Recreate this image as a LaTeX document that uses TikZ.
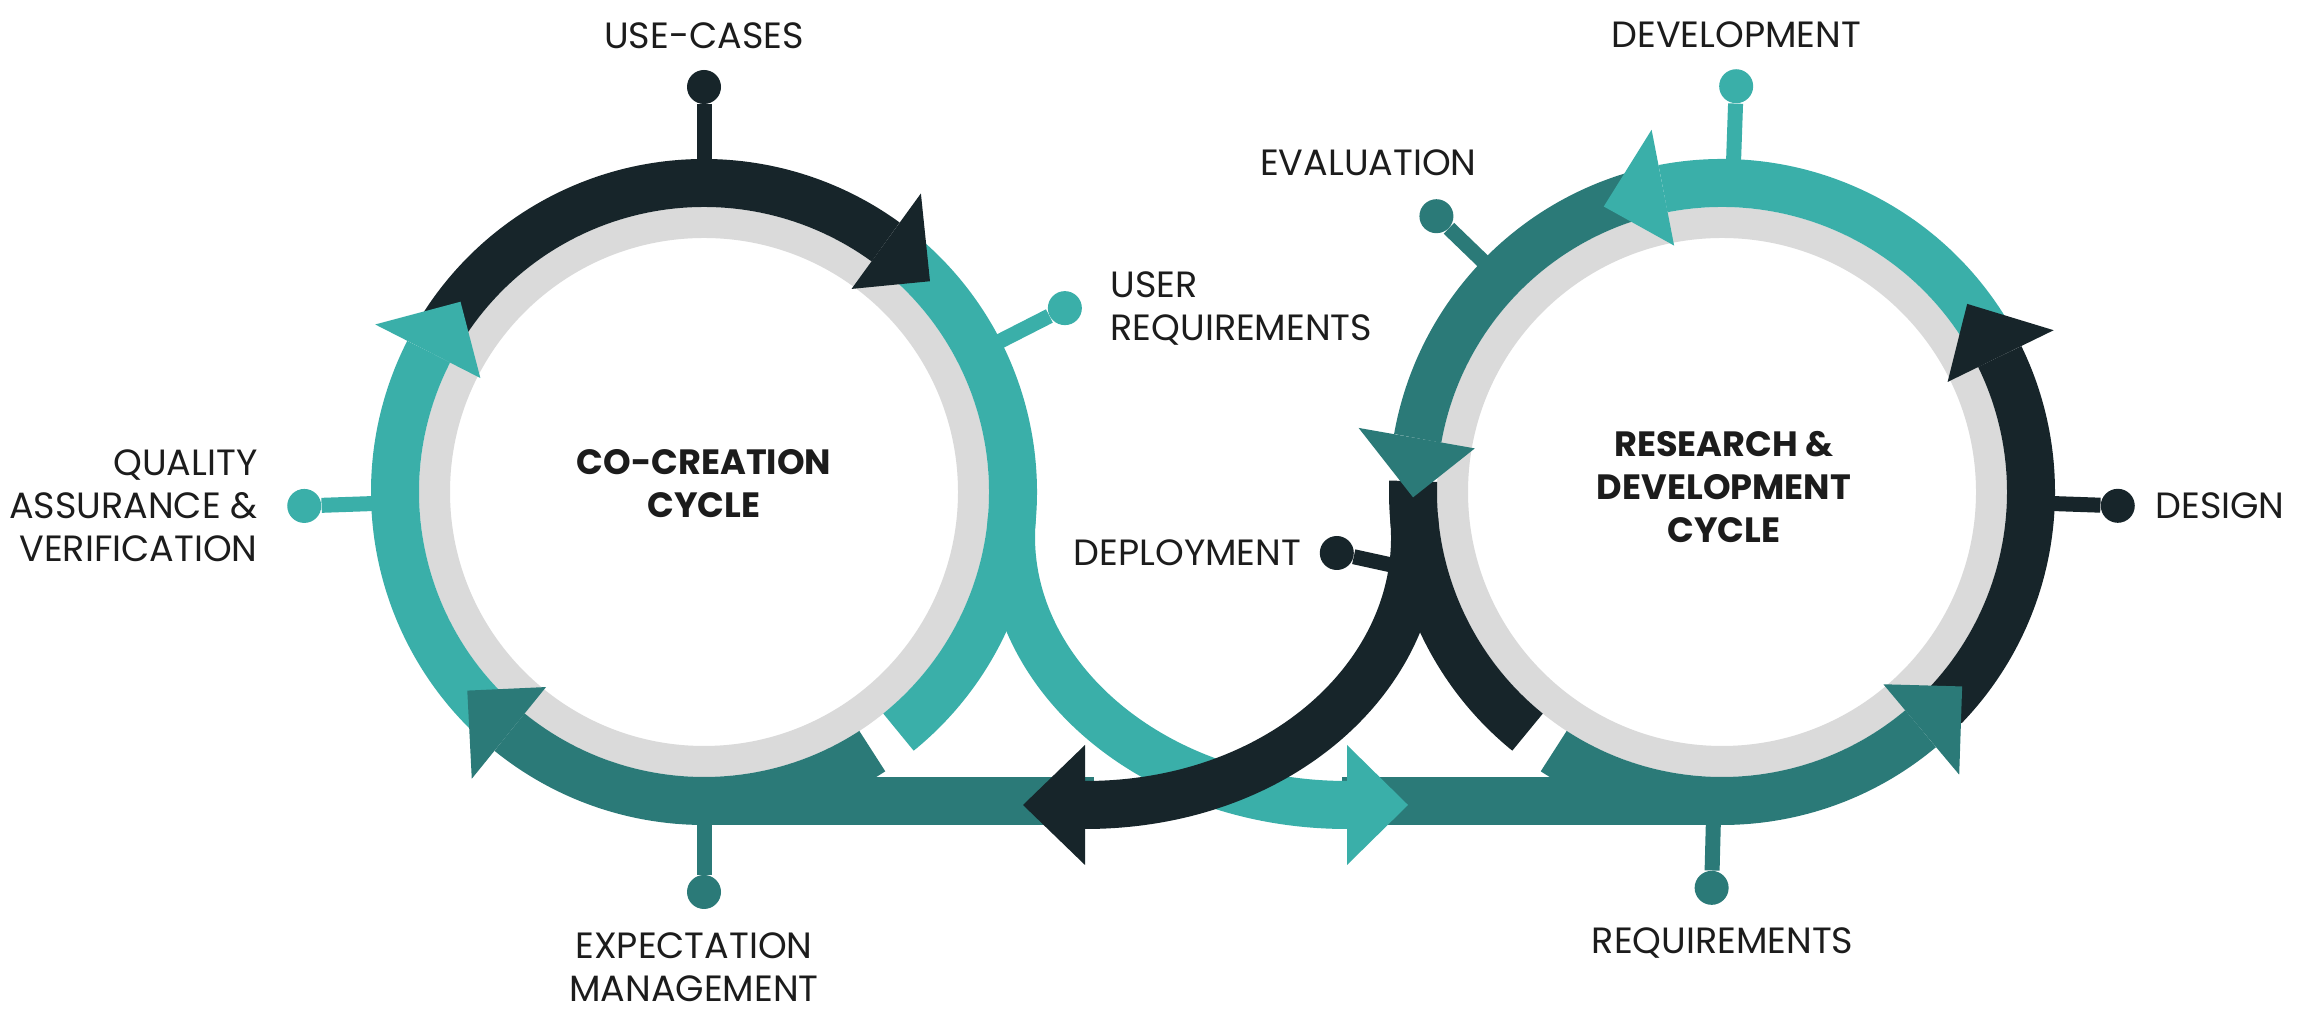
\documentclass[tikz,border=0pt]{standalone}
\usepackage{fontspec}
\setmainfont{Poppins}
\usetikzlibrary{positioning, calc}
\definecolor{ink}{HTML}{17252A}
\definecolor{deepteal}{HTML}{2B7A78}
\definecolor{lightteal}{HTML}{3AAFA9}
\definecolor{ringgray}{HTML}{DADADA}
\definecolor{txt}{HTML}{1C1C1C}
\tikzset{
  band/.style={line width=9.6mm},
  ring/.style={draw=ringgray, line width=6.2mm},
  stem/.style={line width=3mm},
  ball/.style={circle, inner sep=0pt, minimum size=6.8mm},
  lbl/.style={font=\fontsize{20.8}{24.5}\selectfont, text=txt, inner sep=0pt},
  ttl/.style={lbl, font=\fontsize{20}{24.5}\selectfont\bfseries, align=center},
}

\begin{document}
\begin{tikzpicture}[x=0.2mm, y=0.2mm]
  \fill[white] (0,0) rectangle (2306,1028);
  \useasboundingbox (0,0) rectangle (2306,1028);
  \coordinate (lc) at (704,536);
  \coordinate (rc) at (1722,536);
  % grey inner rings
  \draw[ring] (lc) circle (269.5);
  \draw[ring] (rc) circle (269.5);

  % pins
  \foreach \n/\c/\a/\b/\r/\col in {b1/lc/90/90/405/ink, b2/lc/27/27/405/lightteal,
      b3/lc/182/182/400/lightteal, b4/lc/270/270/400/deepteal, b5/rc/88/88/406/lightteal,
      b6/rc/136/136/397/deepteal, b7/rc/194/189/390/ink, b8/rc/358/358/396/ink,
      b9/rc/268.5/268.5/396/deepteal} {
    \node[ball, fill=\col] (\n) at ($(\c)+(\b:\r)$) {};
    \draw[stem, \col] ($(\c)+(\a:320)$) -- (\n);
  }

  % ring segments
  \foreach \c/\col/\s/\e in {lc/lightteal/52/-51, lc/lightteal/228/153, lc/ink/152/54,
      lc/deepteal/-57/-129, rc/lightteal/30/101, rc/deepteal/105/170, rc/ink/178/231,
      rc/deepteal/237/310, rc/ink/316/386}
    \draw[band, \col] ($(\c)+(\s:309)$) arc[start angle=\s, end angle=\e, radius=309];

  % bottom bars
  \draw[band, deepteal] ($(lc)+(270:309)$) -- +(390,0);
  \draw[band, deepteal] ($(rc)+(270:309)$) -- +(-380,0);

  % crossing
  \coordinate (tS) at (1347,223);
  \coordinate (dS) at (1085,223);
  \draw[band, lightteal] ($(lc)+(-5:309)$) .. controls +(-95:150) and +(-200,0) .. (tS);
  \fill[lightteal] ($(tS)+(0,60)$) -- ($(tS)+(61,0)$) -- ($(tS)+(0,-60)$) -- cycle;
  \draw[band, ink] ($(rc)+(185:309)$) .. controls +(-85:150) and +(200,0) .. (dS);
  \fill[ink] ($(dS)+(0,60)$) -- ($(dS)+(-62,0)$) -- ($(dS)+(0,-60)$) -- cycle;

  % arrow heads on the rings
  \foreach \c/\col/\b/\t in {lc/ink/54/43, lc/lightteal/153/142, lc/deepteal/231/220,
      rc/lightteal/101/112.5, rc/deepteal/170/181, rc/deepteal/310/321, rc/ink/26/37.5}
    \fill[\col] ($(\c)+(\b:251)$) -- ($(\c)+(\t:309)$) -- ($(\c)+(\b:369)$) -- cycle;

  % titles
  \node[ttl] (cocreation) at ($(lc)+(0,8)$) {CO-CREATION\\CYCLE};
  \node[ttl] (research) at ($(rc)+(2,5)$) {RESEARCH \&\\DEVELOPMENT\\CYCLE};

  % labels
  \node[lbl, above=4.2mm of b1] (usecases) {USE-CASES};
  \node[lbl, right=5.6mm of b2, align=left] (userreq) {USER\\REQUIREMENTS};
  \node[lbl, left=5.8mm of b3, align=right] (quality) {QUALITY\\ASSURANCE \&\\VERIFICATION};
  \node[lbl, below=4.6mm of b4, align=center, xshift=-2mm] (expect) {EXPECTATION\\MANAGEMENT};
  \node[lbl, above=4.2mm of b5] (develop) {DEVELOPMENT};
  \node[lbl, above=4.6mm of b6, xshift=-13.6mm] (evaluation) {EVALUATION};
  \node[lbl, left=3.6mm of b7] (deploy) {DEPLOYMENT};
  \node[lbl, right=4mm of b8] (design) {DESIGN};
  \node[lbl, below=4.4mm of b9, xshift=2.2mm] (require) {REQUIREMENTS};
\end{tikzpicture}
\end{document}
